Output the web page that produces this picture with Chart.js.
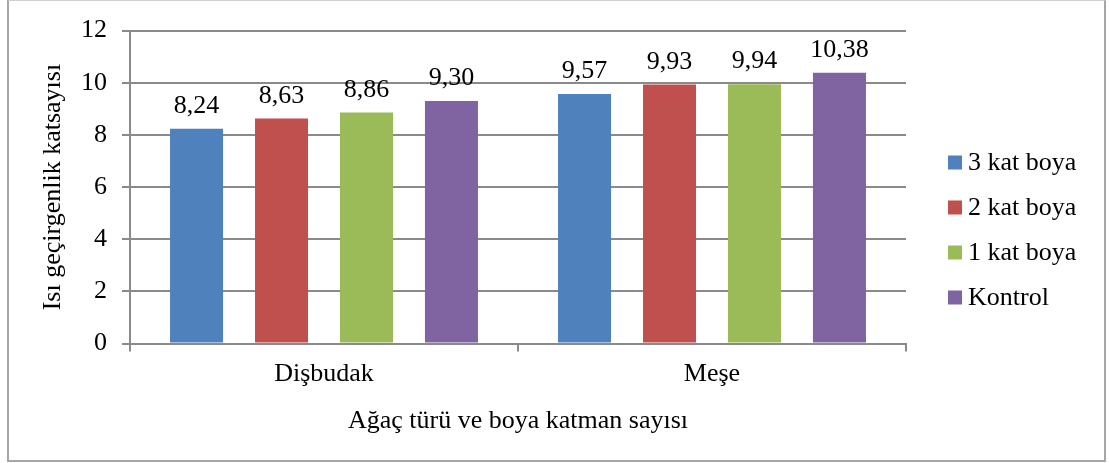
<!DOCTYPE html>
<html>
<head>
<meta charset="utf-8">
<script src="https://cdn.jsdelivr.net/npm/chart.js@4.4.1/dist/chart.umd.min.js"></script>
<style>
body { margin: 0; background: #fff; }
#frame { position: absolute; left: 7px; top: 0; width: 1099px; height: 462px; box-sizing: border-box; border: 2px solid #a6a6a6; border-top: 1px solid #cfcfcf; }
#c { position: absolute; left: 0; top: 0; }
</style>
</head>
<body>
<div id="frame"></div>
<canvas id="c" width="1109" height="463"></canvas>
<script>
// data
const categories = ['Dişbudak', 'Meşe'];
const seriesNames = ['3 kat boya', '2 kat boya', '1 kat boya', 'Kontrol'];
const kat3 = [8.24, 9.57];
const kat2 = [8.63, 9.93];
const kat1 = [8.86, 9.94];
const kontrol = [9.30, 10.38];
const seriesColors = ['#4f81bd', '#c0504d', '#9bbb59', '#8064a2'];
const yTicks = [0, 2, 4, 6, 8, 10, 12];

const serif = '"Liberation Serif", "Times New Roman", serif';
const gridColor = '#8a8a8a';

// value labels above the bars, with comma decimals
const valueLabels = {
    id: 'valueLabels',
    afterDatasetsDraw(chart) {
        const ctx = chart.ctx;
        ctx.save();
        ctx.font = '26px ' + serif;
        ctx.fillStyle = '#000';
        ctx.textAlign = 'center';
        ctx.textBaseline = 'alphabetic';
        chart.data.datasets.forEach((ds, i) => {
            chart.getDatasetMeta(i).data.forEach((bar, j) => {
                ctx.fillText(ds.data[j].toFixed(2).replace('.', ','), bar.x, bar.y - 16);
            });
        });
        ctx.restore();
    }
};

// legend on the right, drawn by hand so the gap to the plot matches
const sideLegend = {
    id: 'sideLegend',
    afterDraw(chart) {
        const ctx = chart.ctx;
        const rowGap = 45;
        const n = chart.data.datasets.length;
        const x = chart.chartArea.right + 42;
        const y0 = chart.height / 2 - 1.5 - rowGap * (n - 1) / 2;
        ctx.save();
        ctx.font = '26px ' + serif;
        ctx.textAlign = 'left';
        ctx.textBaseline = 'middle';
        chart.data.datasets.forEach((ds, i) => {
            const y = y0 + i * rowGap;
            ctx.fillStyle = ds.backgroundColor;
            ctx.fillRect(x, y - 7, 14, 14);
            ctx.fillStyle = '#000';
            ctx.fillText(ds.label, x + 20, y + 1);
        });
        ctx.restore();
    }
};

const seriesData = [kat3, kat2, kat1, kontrol];

new Chart(document.getElementById('c'), {
    type: 'bar',
    data: {
        labels: categories,
        datasets: seriesNames.map((name, i) => ({
            label: name,
            data: seriesData[i],
            backgroundColor: seriesColors[i],
            borderWidth: 0,
            categoryPercentage: 0.876,
            barPercentage: 0.624
        }))
    },
    options: {
        responsive: false,
        animation: false,
        layout: {
            padding: { left: 36, right: 203, top: 25, bottom: 26 }
        },
        plugins: {
            legend: { display: false },
            tooltip: { enabled: false }
        },
        scales: {
            x: {
                grid: {
                    offset: true,
                    drawOnChartArea: false,
                    drawTicks: true,
                    tickLength: 8,
                    color: gridColor,
                    lineWidth: 2
                },
                border: { display: true, color: gridColor, width: 2 },
                ticks: {
                    color: '#000',
                    font: { family: serif, size: 26 },
                    padding: 7
                },
                title: {
                    display: true,
                    text: 'Ağaç türü ve boya katman sayısı',
                    color: '#000',
                    font: { family: serif, size: 26 },
                    padding: { top: 9, bottom: 0 }
                }
            },
            y: {
                min: yTicks[0],
                max: yTicks[yTicks.length - 1],
                ticks: {
                    stepSize: yTicks[1] - yTicks[0],
                    color: '#000',
                    font: { family: serif, size: 26 },
                    padding: 15
                },
                grid: {
                    color: gridColor,
                    lineWidth: 2,
                    tickLength: 8
                },
                border: { display: true, color: gridColor, width: 2 },
                title: {
                    display: true,
                    text: 'Isı geçirgenlik katsayısı',
                    color: '#000',
                    font: { family: serif, size: 26, lineHeight: 1 },
                    padding: { top: 4, bottom: 0 }
                }
            }
        }
    },
    plugins: [valueLabels, sideLegend]
});
</script>
</body>
</html>
